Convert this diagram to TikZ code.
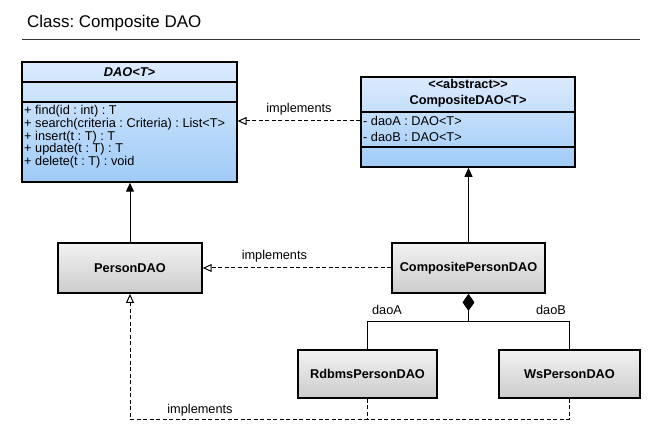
\documentclass[tikz,border=0pt]{standalone}
\usepackage{fontspec}
\setmainfont{Liberation Sans}
\usetikzlibrary{arrows.meta}
\frenchspacing

\definecolor{classtop}{HTML}{DCEBFD}
\definecolor{classbot}{HTML}{9FCBF7}
\definecolor{impltop}{HTML}{F2F2F2}
\definecolor{implbot}{HTML}{CCCCCC}

\begin{document}
\begin{tikzpicture}[x=1bp, y=-1bp,
                        font=\fontsize{12.8}{12.7}\selectfont,
                        class box/.style={rectangle, draw, line width=2bp, top color=classtop, bottom color=classbot, inner sep=0},
                        impl box/.style={rectangle, draw, line width=2bp, top color=impltop, bottom color=implbot, inner sep=0, font=\fontsize{12.8}{12.7}\selectfont\bfseries},
                        member/.style={anchor=west, align=left, inner sep=0},
                        edge label/.style={inner sep=0},
                        dashline/.style={dash pattern=on 4bp off 2.5bp},
                        extends/.style={line width=1bp, -{Triangle[length=9pt,width=8pt]}},
                        realizes/.style={line width=1bp, dashline, -{Triangle[open,length=9pt,width=8pt]}},
                        composes/.style={line width=1bp, {Diamond[length=17pt,width=12pt]}-}]

        \useasboundingbox[fill=white] (0,0) rectangle (661,440);

        % title
        \node[anchor=base west, inner sep=0, font=\fontsize{17}{20}\selectfont] (title) at (27,28) {Class: Composite DAO};
        \draw[line width=1bp, black!80] (22,40) -- (640,40);

        % interface DAO<T>
        \node[class box, minimum width=215, minimum height=120] (dao) at (129.5,122) {};
        \draw[line width=2bp] (22,82) -- (237,82);
        \draw[line width=2bp] (22,102) -- (237,102);
        \node[inner sep=0, font=\fontsize{12.8}{12.7}\selectfont\bfseries\itshape] (daoname) at (129.5,72) {DAO<T>};
        \node[member] (daoops) at (24,137) {+ find(id : int) : T\\
            + search(criteria : Criteria) : List<T>\\
            + insert(t : T) : T\\
            + update(t : T) : T\\
            + delete(t : T) : void};

        % abstract CompositeDAO<T>
        \node[class box, minimum width=214, minimum height=90] (cdao) at (468,122) {};
        \draw[line width=2bp] (361,112) -- (575,112);
        \draw[line width=2bp] (361,147) -- (575,147);
        \node[inner sep=0, align=center, font=\fontsize{12.8}{16}\selectfont\bfseries] (cdaoname) at (468,93) {<{}<abstract>{}>\\CompositeDAO<T>};
        \node[member, font=\fontsize{12.8}{15.7}\selectfont] (cdaoattrs) at (363,129) {- daoA : DAO<T>\\- daoB : DAO<T>};

        % implementations
        \node[impl box, minimum width=144, minimum height=50] (pdao) at (130,268) {PersonDAO};
        \node[impl box, minimum width=153, minimum height=50] (cpdao) at (468.5,268) {CompositePersonDAO};
        \node[impl box, minimum width=140, minimum height=48] (rdbms) at (367.5,374) {RdbmsPersonDAO};
        \node[impl box, minimum width=141, minimum height=48] (ws) at (569.5,374) {WsPersonDAO};

        \coordinate (split) at (468.5,321);
        \coordinate (implcorner) at (130,419);

        % connectors
        \draw[extends] (pdao.north) -- (dao.south -| pdao.north);
        \draw[extends] (cpdao.north) -- (cdao.south -| cpdao.north);
        \draw[realizes] (cdao.west |- 0,121) -- (dao.east |- 0,121)
            node[edge label, pos=0.5, above=5bp] (implA) {implements};
        \draw[realizes] (cpdao.west) -- (pdao.east)
            node[edge label, pos=0.62, above=5bp] (implB) {implements};
        \draw[composes] (cpdao.south) -- (split);
        \draw[line width=1bp] (split) -| (rdbms.north);
        \draw[line width=1bp] (split) -| (ws.north);
        \node[edge label] (roleA) at (387,310) {daoA};
        \node[edge label] (roleB) at (551,310) {daoB};
        \draw[line width=1bp, dashline] (ws.south) |- (rdbms.south |- implcorner);
        \draw[realizes] (rdbms.south) |- (implcorner) -- (pdao.south);
        \node[edge label] (implC) at (200,410) {implements};
    \end{tikzpicture}
\end{document}
